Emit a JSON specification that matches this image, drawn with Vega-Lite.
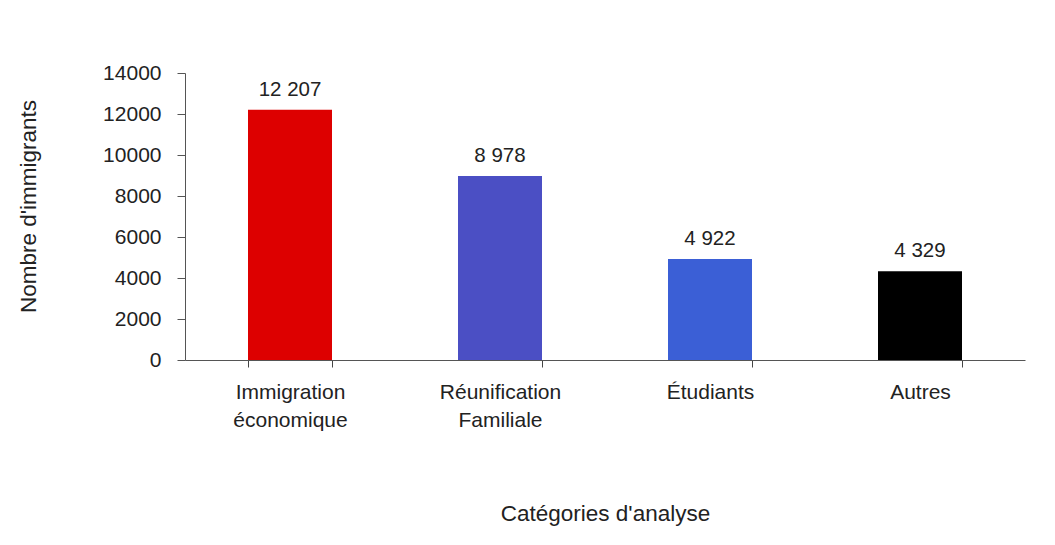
{
  "$schema": "https://vega.github.io/schema/vega-lite/v6.json",
  "width": 840,
  "height": 287,
  "autosize": {"type": "none"},
  "padding": {"left": 185, "top": 73, "right": 30, "bottom": 185},
  "background": "white",
  "config": {
    "view": {"stroke": null},
    "font": "Liberation Sans",
    "text": {"font": "Liberation Sans"}
  },
  "data": {
    "values": [
      {"categorie": "Immigration économique", "immigrants": 12207, "etiquette": "12 207"},
      {"categorie": "Réunification Familiale", "immigrants": 8978, "etiquette": "8 978"},
      {"categorie": "Étudiants", "immigrants": 4922, "etiquette": "4 922"},
      {"categorie": "Autres", "immigrants": 4329, "etiquette": "4 329"}
    ]
  },
  "encoding": {
    "x": {
      "field": "categorie",
      "type": "nominal",
      "sort": null,
      "scale": {"paddingInner": 0.6, "paddingOuter": 0.3},
      "axis": {
        "title": "Catégories d'analyse",
        "titleFont": "Liberation Sans",
        "titleFontSize": 22.5,
        "titleFontWeight": "normal",
        "titleColor": "#222",
        "titlePadding": 72,
        "labelAngle": 0,
        "labelFont": "Liberation Sans",
        "labelFontSize": 21,
        "labelColor": "#222",
        "labelPadding": 14,
        "labelLineHeight": 28,
        "labelExpr": "datum.value ? split(datum.value, ' ') : ''",
        "tickBand": "extent",
        "tickSize": 7,
        "tickColor": "#444",
        "domainColor": "#555",
        "grid": false
      }
    },
    "y": {
      "field": "immigrants",
      "type": "quantitative",
      "scale": {"domain": [0, 14000]},
      "axis": {
        "title": "Nombre d'immigrants",
        "titleFont": "Liberation Sans",
        "titleFontSize": 22.5,
        "titleFontWeight": "normal",
        "titleColor": "#222",
        "titlePadding": 62,
        "titleY": 133,
        "values": [0, 2000, 4000, 6000, 8000, 10000, 12000, 14000],
        "format": "d",
        "labelFont": "Liberation Sans",
        "labelFontSize": 21,
        "labelColor": "#222",
        "labelPadding": 16,
        "tickSize": 8,
        "tickColor": "#555",
        "domainColor": "#555",
        "grid": false
      }
    }
  },
  "layer": [
    {
      "mark": {"type": "bar"},
      "encoding": {
        "color": {
          "field": "categorie",
          "type": "nominal",
          "sort": null,
          "scale": {
            "domain": ["Immigration économique", "Réunification Familiale", "Étudiants", "Autres"],
            "range": ["#dd0000", "#4b4fc4", "#3b5fd6", "#000000"]
          },
          "legend": null
        }
      }
    },
    {
      "mark": {"type": "text", "baseline": "bottom", "dy": -10, "fontSize": 20.5, "font": "Liberation Sans", "color": "#222"},
      "encoding": {
        "text": {"field": "etiquette"}
      }
    }
  ]
}
